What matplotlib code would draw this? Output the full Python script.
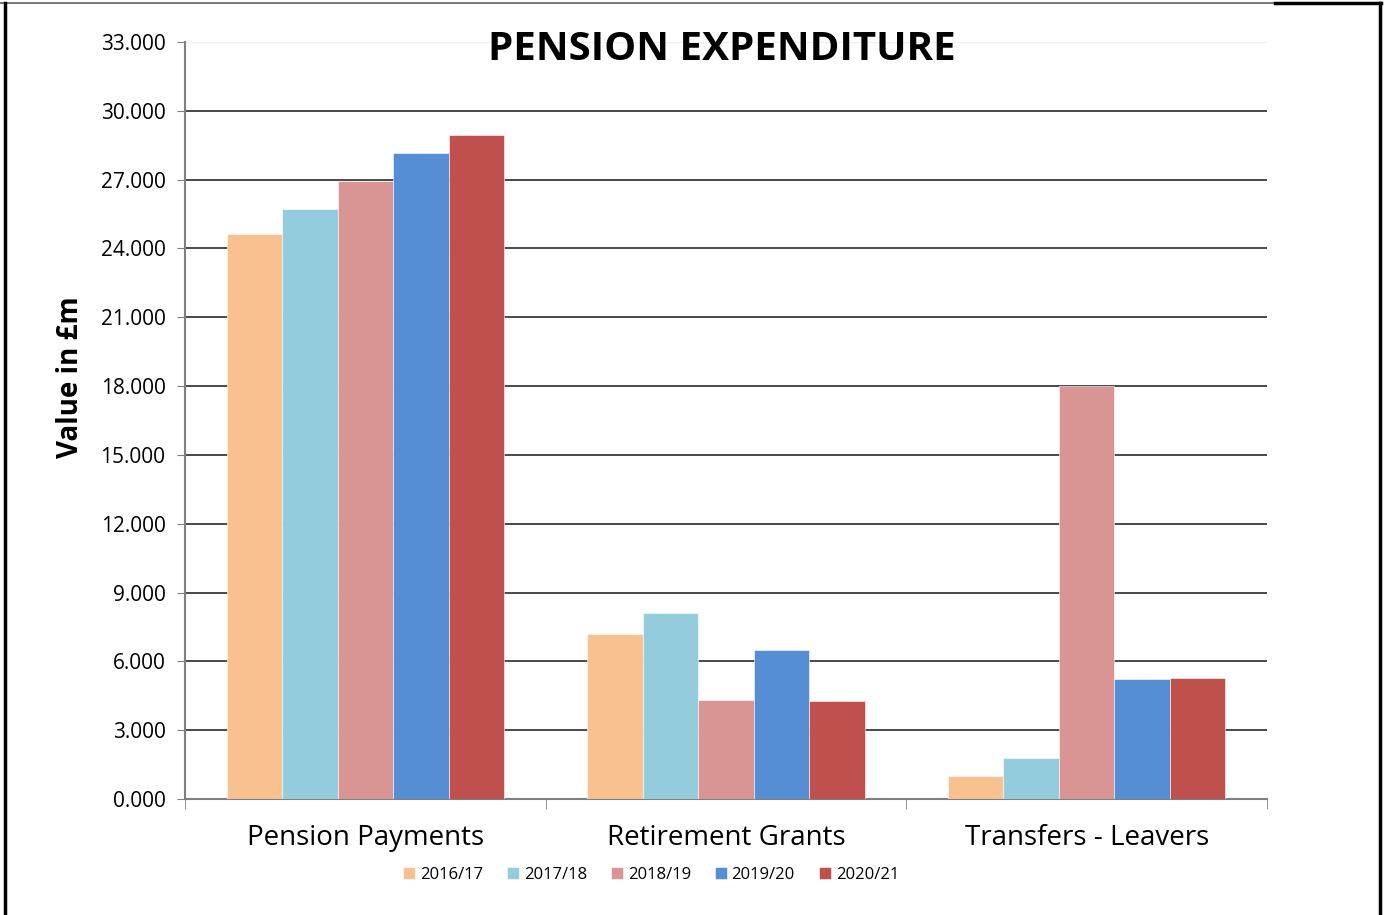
import matplotlib
matplotlib.use('Agg')
import matplotlib.pyplot as plt
import numpy as np
from matplotlib.ticker import FuncFormatter
from matplotlib.lines import Line2D

plt.rcParams['font.family'] = ['Open Sans', 'DejaVu Sans']

categories = ['Pension Payments', 'Retirement Grants', 'Transfers - Leavers']
years = ['2016/17', '2017/18', '2018/19', '2019/20', '2020/21']
values = {
    '2016/17': [24630, 7190, 1000],
    '2017/18': [25700, 8120, 1770],
    '2018/19': [26940, 4320, 18000],
    '2019/20': [28140, 6510, 5220],
    '2020/21': [28950, 4270, 5290],
}
colors = ['#F9C090', '#93CDDD', '#D99594', '#558ED5', '#C0504D']

W, H = 1389, 915
fig = plt.figure(figsize=(W / 100, H / 100), dpi=100)
ax = fig.add_axes([185 / W, 1 - 799 / H, (1267 - 185) / W, (799 - 42) / H])

n = len(years)
bw = 1 / (n + 1.5)
x = np.arange(len(categories))
for i, (yr, c) in enumerate(zip(years, colors)):
    ax.bar(x + (i - (n - 1) / 2) * bw, values[yr], bw, color=c, label=yr,
           edgecolor='white', linewidth=0.4, zorder=3)

ax.set_xlim(-0.5, len(categories) - 0.5)
ax.set_ylim(0, 33000)
ax.set_yticks(np.arange(0, 33001, 3000))
ax.yaxis.set_major_formatter(FuncFormatter(lambda v, p: f'{int(v) // 1000}.{int(v) % 1000:03d}'))
ax.tick_params(axis='y', labelsize=15, length=6, color='#808080', pad=8)
for t in ax.get_yticks()[1:-1]:
    ax.axhline(t, color='#3a3a3a', linewidth=1.3, zorder=1)
ax.axhline(33000, color='#f0f0f0', linewidth=1, zorder=1)

ax.set_xticks(x)
ax.set_xticklabels(categories, fontsize=20)
ax.set_xticks(np.arange(-0.5, len(categories)), minor=True)
ax.tick_params(axis='x', which='major', length=0, pad=18)
ax.tick_params(axis='x', which='minor', length=7, color='#808080')

for s in ['top', 'right']:
    ax.spines[s].set_visible(False)
for s in ['left', 'bottom']:
    ax.spines[s].set_color('#808080')
    ax.spines[s].set_linewidth(1.5)

fig.text(70 / W, 1 - 377 / H, 'Value in £m', fontsize=20, fontweight='bold',
         rotation=90, ha='center', va='center')
fig.text(722 / W, 1 - 49 / H, 'PENSION EXPENDITURE', fontsize=29, fontweight='bold',
         ha='center', va='center')

ax.legend(loc='center', bbox_to_anchor=(651 / W, 1 - 875 / H), bbox_transform=fig.transFigure,
          ncol=5, frameon=False, fontsize=12, handlelength=0.7, handleheight=0.7,
          handletextpad=0.3, columnspacing=1.45)

# outer frame
fig.add_artist(Line2D([0, 1275 / W], [1 - 3 / H, 1 - 3 / H], color='#606060', linewidth=1.2, transform=fig.transFigure))
fig.add_artist(Line2D([1275 / W, 1381 / W], [1 - 3 / H, 1 - 3 / H], color='black', linewidth=2.5, transform=fig.transFigure))
fig.add_artist(Line2D([5 / W, 5 / W], [0, 1 - 3 / H], color='black', linewidth=2.5, transform=fig.transFigure))
fig.add_artist(Line2D([1380 / W, 1380 / W], [0, 1 - 3 / H], color='black', linewidth=2.5, transform=fig.transFigure))

fig.savefig('out.png', dpi=100)
